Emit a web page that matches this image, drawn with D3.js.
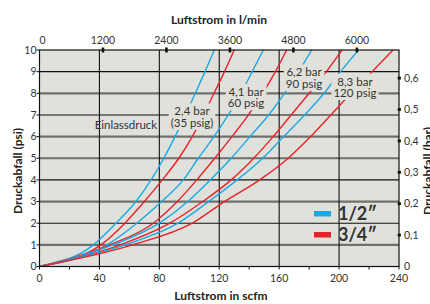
<!DOCTYPE html>
<html>
<head>
<meta charset="utf-8">
<script src="https://cdn.jsdelivr.net/npm/d3@7"></script>
<style>
  body { margin: 0; background: #fff; }
  svg { display: block; font-family: Lato, "Open Sans", sans-serif; }
</style>
</head>
<body>
<script>
// chart size
var w = 430;
var h = 304;

// axis values
var scfmTicks = [0, 40, 80, 120, 160, 200, 240];
var scfmMinor = [20, 60, 100, 140, 180, 220];
var psiTicks = [0, 1, 2, 3, 4, 5, 6, 7, 8, 9, 10];
var grayPsi = [1, 3, 5, 6, 8];
var lpmTicks = [0, 1200, 2400, 3600, 4800, 6000];
var barTicks = [0, 0.1, 0.2, 0.3, 0.4, 0.5, 0.6];

// curves: flow (scfm) read at each pressure drop level (psi)
var psiLevels = [0, 1, 2, 3, 4, 5, 6, 7, 8, 9, 10];
var blue24 = [0, 36, 51, 64.4, 74.5, 83, 90.5, 97.5, 104, 110.5, 116.7];
var red24  = [0, 41, 57, 70, 82, 93, 102, 109.5, 116.5, 123.5, 130];
var blue41 = [0, 45, 65, 81.5, 96, 106, 116.5, 126, 134.5, 142, 149.4];
var red41  = [0, 47, 76, 92, 105, 117, 128.5, 139.5, 149, 157.5, 165];
var blue62 = [0, 49, 80, 99, 114, 128, 140.5, 153, 163.5, 173, 181.7];
var red62  = [0, 54, 87, 109, 128, 143, 156, 168, 180, 191.5, 202];
var blue83 = [0, 57, 92.5, 113, 132, 149, 163, 177, 190, 201, 213];
var red83  = [0, 62, 102, 123.5, 147, 166, 181, 194.5, 208, 222, 236];

var blue = "#1ba9e6";
var red = "#e8222b";

var series = [
    {vals: blue24, color: blue}, {vals: red24, color: red},
    {vals: blue41, color: blue}, {vals: red41, color: red},
    {vals: blue62, color: blue}, {vals: red62, color: red},
    {vals: blue83, color: blue}, {vals: red83, color: red}
];

// pressure labels
var pressLabels = [
    {lines: ["2,4 bar", "(35 psig)"], x: 101.8, y: 6.98},
    {lines: ["4,1 bar", "60 psig"], x: 137.9, y: 7.88},
    {lines: ["6,2 bar", "90 psig"], x: 176.6, y: 8.78},
    {lines: ["8,3 bar", "120 psig"], x: 210.6, y: 8.36}
];

var legendNames = ["1/2\u2033", "3/4\u2033"];
var legendColors = [blue, red];

var SCFM_TO_LPM = 28.3168;
var PSI_PER_BAR = 14.5038;

var x = d3.scaleLinear().domain([0, 240]).range([39.5, 399]);
var y = d3.scaleLinear().domain([0, 10]).range([266.5, 50]);
var xTop = d3.scaleLinear().domain([0, 240 * SCFM_TO_LPM]).range([39.5, 399]);

var svg = d3.select("body").append("svg")
    .attr("width", w)
    .attr("height", h);

// plot background
svg.append("rect")
    .attr("x", x(0)).attr("y", y(10))
    .attr("width", x(240) - x(0)).attr("height", y(0) - y(10))
    .attr("fill", "#e1e1dc");

svg.append("clipPath").attr("id", "plotClip")
  .append("rect")
    .attr("x", x(0)).attr("y", y(10))
    .attr("width", x(240) - x(0)).attr("height", y(0) - y(10));

// horizontal grid
svg.selectAll("line.hgrid")
    .data(psiTicks.filter(function(d) { return d > 0 && d < 10; }))
    .enter().append("line")
    .attr("class", "hgrid")
    .attr("x1", x(0)).attr("x2", x(240))
    .attr("y1", function(d) { return y(d); })
    .attr("y2", function(d) { return y(d); })
    .attr("stroke", function(d) { return grayPsi.indexOf(d) >= 0 ? "#6f6f6c" : "#111"; })
    .attr("stroke-width", function(d) { return grayPsi.indexOf(d) >= 0 ? 2.2 : 1.1; });

// vertical grid
svg.selectAll("line.vgrid")
    .data(scfmTicks.filter(function(d) { return d > 0 && d < 240; }))
    .enter().append("line")
    .attr("class", "vgrid")
    .attr("x1", function(d) { return x(d); })
    .attr("x2", function(d) { return x(d); })
    .attr("y1", y(10)).attr("y2", y(0))
    .attr("stroke", "#111")
    .attr("stroke-width", 1.1);

// curves
var line = d3.line()
    .x(function(d) { return x(d[0]); })
    .y(function(d) { return y(d[1]); })
    .curve(d3.curveMonotoneX);

svg.append("g").attr("clip-path", "url(#plotClip)")
    .selectAll("path")
    .data(series)
    .enter().append("path")
    .attr("d", function(s) {
        return line(s.vals.map(function(v, i) { return [v, psiLevels[i]]; }));
    })
    .attr("fill", "none")
    .attr("stroke", function(s) { return s.color; })
    .attr("stroke-width", 1.4);

// pressure labels with background boxes
pressLabels.forEach(function(lab) {
    var g = svg.append("g");
    var box = g.append("rect").attr("fill", "#e1e1dc");
    var t = g.append("text")
        .attr("text-anchor", "middle")
        .attr("font-size", "11.5px")
        .attr("fill", "#333");
    lab.lines.forEach(function(s, i) {
        t.append("tspan")
            .attr("x", x(lab.x))
            .attr("y", y(lab.y) + i * 11.5)
            .text(s);
    });
    var bb = t.node().getBBox();
    box.attr("x", bb.x - 2).attr("y", bb.y - 1)
        .attr("width", bb.width + 4).attr("height", bb.height + 2);
});

svg.append("text")
    .attr("x", x(57.7)).attr("y", y(6.35))
    .attr("text-anchor", "middle")
    .attr("font-size", "11.5px")
    .attr("fill", "#333")
    .text("Einlassdruck");

// legend
legendNames.forEach(function(name, i) {
    svg.append("rect")
        .attr("x", 314).attr("y", 211 + i * 21)
        .attr("width", 17).attr("height", 5.5)
        .attr("fill", legendColors[i]);
    svg.append("text")
        .attr("x", 338).attr("y", 219.5 + i * 21)
        .attr("font-size", "18px")
        .attr("font-weight", "bold")
        .attr("fill", "#333")
        .text(name);
});

// plot frame
svg.append("rect")
    .attr("x", x(0)).attr("y", y(10))
    .attr("width", x(240) - x(0)).attr("height", y(0) - y(10))
    .attr("fill", "none")
    .attr("stroke", "#111")
    .attr("stroke-width", 1.2);

// bottom axis
svg.selectAll("line.btick")
    .data(scfmTicks.concat(scfmMinor))
    .enter().append("line")
    .attr("class", "btick")
    .attr("x1", function(d) { return x(d); })
    .attr("x2", function(d) { return x(d); })
    .attr("y1", y(0)).attr("y2", y(0) + 3)
    .attr("stroke", "#111");

svg.selectAll("text.blab")
    .data(scfmTicks)
    .enter().append("text")
    .attr("class", "blab")
    .attr("x", function(d) { return x(d); })
    .attr("y", 282)
    .attr("text-anchor", "middle")
    .attr("font-size", "10.5px")
    .attr("fill", "#333")
    .text(function(d) { return d; });

svg.append("text")
    .attr("x", 221).attr("y", 300)
    .attr("text-anchor", "middle")
    .attr("font-size", "12px")
    .attr("font-weight", "bold")
    .attr("fill", "#222")
    .text("Luftstrom in scfm");

// top axis
svg.selectAll("rect.ttick")
    .data(lpmTicks.filter(function(d) { return d > 0; }))
    .enter().append("rect")
    .attr("class", "ttick")
    .attr("x", function(d) { return xTop(d) - 1.3; })
    .attr("y", y(10) - 2.5)
    .attr("width", 2.6).attr("height", 5)
    .attr("fill", "#111");

svg.selectAll("text.tlab")
    .data(lpmTicks)
    .enter().append("text")
    .attr("class", "tlab")
    .attr("x", function(d) { return xTop(d) + (d === 0 ? 3 : 0); })
    .attr("y", 44)
    .attr("text-anchor", "middle")
    .attr("font-size", "10.5px")
    .attr("fill", "#333")
    .text(function(d) { return d; });

svg.append("text")
    .attr("x", 219).attr("y", 24)
    .attr("text-anchor", "middle")
    .attr("font-size", "12px")
    .attr("font-weight", "bold")
    .attr("fill", "#222")
    .text("Luftstrom in l/min");

// left axis
svg.selectAll("line.ltick")
    .data(psiTicks)
    .enter().append("line")
    .attr("class", "ltick")
    .attr("x1", x(0) - 3).attr("x2", x(0))
    .attr("y1", function(d) { return y(d); })
    .attr("y2", function(d) { return y(d); })
    .attr("stroke", "#111");

svg.selectAll("text.llab")
    .data(psiTicks)
    .enter().append("text")
    .attr("class", "llab")
    .attr("x", 36.5)
    .attr("y", function(d) { return y(d) + 3.8; })
    .attr("text-anchor", "end")
    .attr("font-size", "10.5px")
    .attr("fill", "#333")
    .text(function(d) { return d; });

svg.append("text")
    .attr("transform", "translate(22,171) rotate(-90)")
    .attr("text-anchor", "middle")
    .attr("font-size", "12px")
    .attr("font-weight", "bold")
    .attr("fill", "#222")
    .text("Druckabfall (psi)");

// right axis (bar)
svg.selectAll("rect.rtick")
    .data(barTicks.filter(function(d) { return d > 0; }))
    .enter().append("rect")
    .attr("class", "rtick")
    .attr("x", x(240) - 1.3)
    .attr("y", function(d) { return y(d * PSI_PER_BAR) - 1.4; })
    .attr("width", 3.2).attr("height", 2.8)
    .attr("fill", "#111");

svg.selectAll("text.rlab")
    .data(barTicks)
    .enter().append("text")
    .attr("class", "rlab")
    .attr("x", 404)
    .attr("y", function(d) { return y(d * PSI_PER_BAR) + 3.8; })
    .attr("font-size", "10.5px")
    .attr("fill", "#333")
    .text(function(d) { return d === 0 ? "0" : d3.format(".1f")(d).replace(".", ","); });

svg.append("text")
    .attr("transform", "translate(432,171) rotate(-90)")
    .attr("text-anchor", "middle")
    .attr("font-size", "12px")
    .attr("font-weight", "bold")
    .attr("fill", "#222")
    .text("Druckabfall (bar)");
</script>
</body>
</html>
